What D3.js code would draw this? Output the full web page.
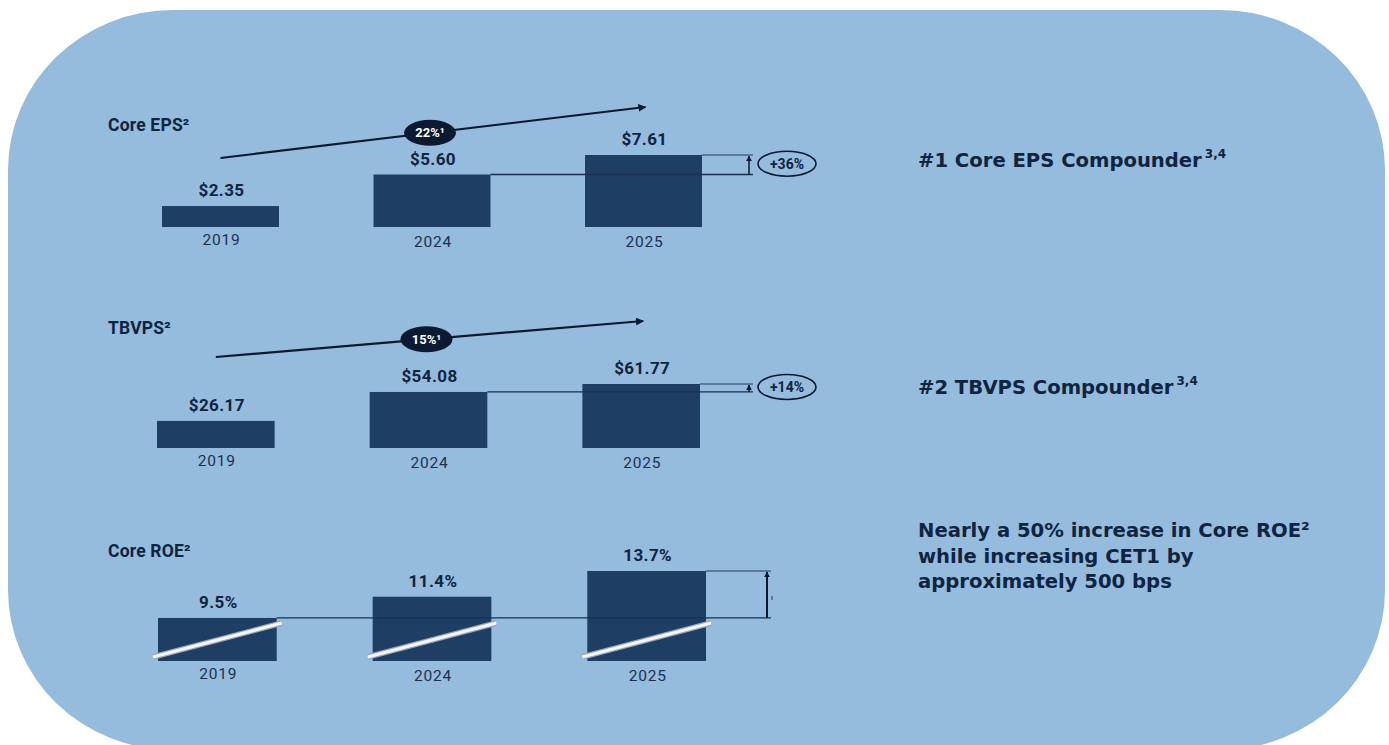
<!DOCTYPE html>
<html>
<head>
<meta charset="utf-8">
<script src="https://cdn.jsdelivr.net/npm/d3@7/dist/d3.min.js"></script>
<style>
  html, body { margin: 0; padding: 0; background: #ffffff; }
  svg { display: block; }
</style>
</head>
<body>
<svg id="chart" width="1389" height="745"></svg>
<script>
// ---------------- data ----------------
const years = ["2019", "2024", "2025"];
const panelTitles = ["Core EPS²", "TBVPS²", "Core ROE²"];
const epsValues = [2.35, 5.60, 7.61];
const tbvpsValues = [26.17, 54.08, 61.77];
const roeValues = [9.5, 11.4, 13.7];
const epsLabels = ["$2.35", "$5.60", "$7.61"];
const tbvpsLabels = ["$26.17", "$54.08", "$61.77"];
const roeLabels = ["9.5%", "11.4%", "13.7%"];
const cagrLabels = ["22%¹", "15%¹"];
const changeLabels = ["+36%", "+14%"];
const sideNotes = [
  ["#1 Core EPS Compounder"],
  ["#2 TBVPS Compounder"],
  ["Nearly a 50% increase in Core ROE²", "while increasing CET1 by", "approximately 500 bps"]
];
const sideNoteSup = ["3,4", "3,4", ""];

// ---------------- style ----------------
const C = {
  bg: "#95bbdd",
  bar: "#1f3e64",
  text: "#0f2440",
  dark: "#0b1a31",
  line: "#17304f"
};
const LABEL_FONT = "Roboto, 'Liberation Sans', sans-serif";

const svg = d3.select("#chart");
const defs = svg.append("defs");
defs.append("marker").attr("id", "arrowHead")
  .attr("viewBox", "0 0 10 10").attr("refX", 9).attr("refY", 5)
  .attr("markerWidth", 8).attr("markerHeight", 8).attr("markerUnits", "userSpaceOnUse")
  .attr("orient", "auto")
  .append("path").attr("d", "M0,0 L10,5 L0,10 Z").attr("fill", C.dark);
defs.append("marker").attr("id", "arrowSmall")
  .attr("viewBox", "0 0 10 10").attr("refX", 9).attr("refY", 5)
  .attr("markerWidth", 6).attr("markerHeight", 6).attr("markerUnits", "userSpaceOnUse")
  .attr("orient", "auto")
  .append("path").attr("d", "M0,0 L10,5 L0,10 Z").attr("fill", C.dark);

// background rounded panel
svg.append("rect")
  .attr("x", 8).attr("y", 10).attr("width", 1377).attr("height", 740)
  .attr("rx", 165).attr("ry", 160)
  .attr("fill", C.bg);

// ---------------- panels ----------------
const panels = [
  { values: epsValues, labels: epsLabels, title: panelTitles[0],
    xRange: [162, 702], baseY: 227, domain: [0.19, 7.61], hMax: 72, titleY: 131,
    trend: { y0: 69, y1: 120, dx1: 2 }, cagr: cagrLabels[0], change: changeLabels[0] },
  { values: tbvpsValues, labels: tbvpsLabels, title: panelTitles[1],
    xRange: [157, 700], baseY: 448, domain: [0, 61.77], hMax: 64, titleY: 334,
    trend: { y0: 91, y1: 127, dx1: 2 }, cagr: cagrLabels[1], change: changeLabels[1] },
  { values: roeValues, labels: roeLabels, title: panelTitles[2],
    xRange: [158, 706], baseY: 661, domain: [5.65, 13.7], hMax: 90, titleY: 557,
    roe: true }
];

panels.forEach((p, pi) => {
  const g = svg.append("g");
  const x = d3.scaleBand().domain(years).range(p.xRange).paddingInner(0.447).paddingOuter(0);
  const y = d3.scaleLinear().domain(p.domain).range([p.baseY, p.baseY - p.hMax]);
  const data = years.map((yr, i) => ({ yr, v: p.values[i], label: p.labels[i] }));

  // title
  g.append("text").attr("x", 108).attr("y", p.titleY)
    .attr("font-family", LABEL_FONT)
    .attr("font-weight", 700).attr("font-size", 17.5).attr("fill", C.text)
    .attr("letter-spacing", 0.2)
    .text(p.title);

  // bars
  g.selectAll("rect.bar").data(data).enter().append("rect")
    .attr("class", "bar")
    .attr("x", d => x(d.yr)).attr("width", x.bandwidth())
    .attr("y", d => y(d.v)).attr("height", d => p.baseY - y(d.v))
    .attr("fill", C.bar);

  // value labels
  g.selectAll("text.val").data(data).enter().append("text")
    .attr("class", "val")
    .attr("x", d => x(d.yr) + x.bandwidth() / 2 + 1)
    .attr("y", d => y(d.v) - 10)
    .attr("text-anchor", "middle")
    .attr("font-family", LABEL_FONT)
    .attr("font-weight", 700).attr("font-size", 17).attr("fill", C.text)
    .attr("letter-spacing", 0.4)
    .text(d => d.label);

  // year labels
  g.selectAll("text.yr").data(data).enter().append("text")
    .attr("class", "yr")
    .attr("x", d => x(d.yr) + x.bandwidth() / 2 + 1)
    .attr("y", (d, i) => p.baseY + (i === 0 ? 18 : 20))
    .attr("text-anchor", "middle")
    .attr("font-family", LABEL_FONT)
    .attr("font-weight", 400).attr("font-size", 15.5).attr("fill", "#1c3150")
    .attr("letter-spacing", 0.8)
    .text(d => d.yr);

  const last = data[2], mid = data[1], first = data[0];
  const rightX = x(last.yr) + x.bandwidth();

  if (!p.roe) {
    // trend arrow with CAGR badge
    const tx0 = x(first.yr) + x.bandwidth() / 2;
    const tx1 = x(last.yr) + x.bandwidth() / 2 + p.trend.dx1;
    const ty0 = p.baseY - p.trend.y0, ty1 = p.baseY - p.trend.y1;
    g.append("line").attr("x1", tx0).attr("y1", ty0).attr("x2", tx1).attr("y2", ty1)
      .attr("stroke", C.dark).attr("stroke-width", 2.2)
      .attr("marker-end", "url(#arrowHead)");
    const bx = x(mid.yr) + x.bandwidth() / 2 - 2;
    const by = ty0 + (ty1 - ty0) * (bx - tx0) / (tx1 - tx0);
    g.append("ellipse").attr("cx", bx).attr("cy", by).attr("rx", 26).attr("ry", 13)
      .attr("fill", C.dark);
    g.append("text").attr("x", bx).attr("y", by + 4.5).attr("text-anchor", "middle")
      .attr("font-family", LABEL_FONT)
      .attr("font-weight", 700).attr("font-size", 13).attr("fill", "#ffffff")
      .text(p.cagr);

    // change bracket
    const lineEnd = 753;
    g.append("line").attr("x1", x(mid.yr) + x.bandwidth()).attr("x2", lineEnd)
      .attr("y1", y(mid.v)).attr("y2", y(mid.v))
      .attr("stroke", C.line).attr("stroke-width", 1.3);
    g.append("line").attr("x1", rightX).attr("x2", lineEnd)
      .attr("y1", y(last.v)).attr("y2", y(last.v))
      .attr("stroke", C.line).attr("stroke-width", 0.9);
    g.append("line").attr("x1", 749).attr("x2", 749)
      .attr("y1", y(mid.v)).attr("y2", y(last.v) + 1)
      .attr("stroke", C.dark).attr("stroke-width", 1.5)
      .attr("marker-end", "url(#arrowSmall)");
    const ey = (y(mid.v) + y(last.v)) / 2 - 1;
    g.append("ellipse").attr("cx", 787).attr("cy", ey).attr("rx", 29).attr("ry", 12.5)
      .attr("fill", "none").attr("stroke", C.dark).attr("stroke-width", 1.6);
    g.append("text").attr("x", 787).attr("y", ey + 5).attr("text-anchor", "middle")
      .attr("font-family", LABEL_FONT)
      .attr("font-weight", 700).attr("font-size", 14).attr("fill", C.text)
      .text(p.change);
  } else {
    // white slashes through each bar
    g.selectAll("line.slashShadow").data(data).enter().append("line")
      .attr("x1", d => x(d.yr) - 5).attr("y1", p.baseY - 4)
      .attr("x2", d => x(d.yr) + x.bandwidth() + 5).attr("y2", p.baseY - 38)
      .attr("stroke", "#9aa6b6").attr("stroke-width", 5.5);
    g.selectAll("line.slash").data(data).enter().append("line")
      .attr("x1", d => x(d.yr) - 5).attr("y1", p.baseY - 4)
      .attr("x2", d => x(d.yr) + x.bandwidth() + 5).attr("y2", p.baseY - 38)
      .attr("stroke", "#f4f6f8").attr("stroke-width", 3.2);
    // reference lines
    g.append("line").attr("x1", x(first.yr) + x.bandwidth()).attr("x2", 771)
      .attr("y1", y(first.v)).attr("y2", y(first.v))
      .attr("stroke", C.line).attr("stroke-width", 1.2);
    g.append("line").attr("x1", rightX).attr("x2", 771)
      .attr("y1", y(last.v)).attr("y2", y(last.v))
      .attr("stroke", C.line).attr("stroke-width", 0.9);
    g.append("line").attr("x1", 767).attr("x2", 767)
      .attr("y1", y(first.v)).attr("y2", y(last.v) + 1)
      .attr("stroke", C.dark).attr("stroke-width", 2)
      .attr("marker-end", "url(#arrowSmall)");
    g.append("line").attr("x1", 772).attr("x2", 772)
      .attr("y1", y(first.v) - 22).attr("y2", y(first.v) - 18)
      .attr("stroke", C.dark).attr("stroke-width", 0.8);
  }
});

// ---------------- side notes ----------------
const noteY = [167, 394, 537];
sideNotes.forEach((lines, i) => {
  const t = svg.append("text").attr("x", 918).attr("y", noteY[i])
    .attr("font-family", "'DejaVu Sans', 'Noto Sans', sans-serif")
    .attr("font-weight", 700).attr("font-size", 19.6).attr("fill", C.text);
  lines.forEach((ln, j) => {
    t.append("tspan").attr("x", 918).attr("dy", j === 0 ? 0 : 25.5).text(ln);
  });
  if (sideNoteSup[i]) {
    t.append("tspan").attr("dx", 3).attr("dy", -9).attr("font-size", 12).text(sideNoteSup[i]);
  }
});
</script>
</body>
</html>
